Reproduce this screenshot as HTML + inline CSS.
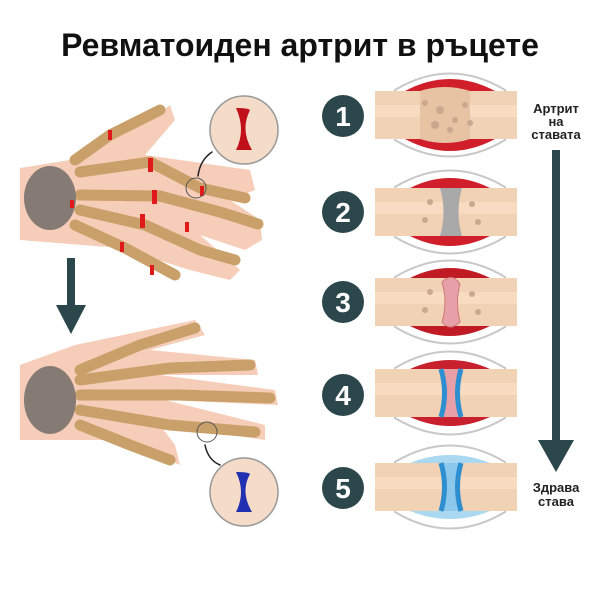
<!DOCTYPE html>
<html><head><meta charset="utf-8"><style>
body{margin:0;background:#fff;width:600px;height:600px;overflow:hidden}
svg{display:block}
text{font-family:"Liberation Sans",sans-serif}
</style></head><body>
<svg width="600" height="600" viewBox="0 0 600 600" xmlns="http://www.w3.org/2000/svg">
<text x="300" y="56" text-anchor="middle" font-size="32" font-weight="bold" fill="#111">Ревматоиден артрит в ръцете</text>

<defs>
<g id="bone">
  <rect x="375" y="-24" width="142" height="48" fill="#f2d2b4"/>
  <rect x="375" y="-10" width="142" height="12" fill="#f7dcc2"/>
</g>
<g id="cap">
  <path d="M395,-25 Q450,-58 505,-25 L505,25 Q450,58 395,25Z" fill="#fff" stroke="#c8c8c8" stroke-width="2"/>
</g>
</defs>

<g transform="translate(0,115)">
  <use href="#cap"/>
  <path d="M405,-24 Q450,-48 495,-24 L495,24 Q450,48 405,24Z" fill="#d01f2a"/>
  <use href="#bone"/>
  <path d="M420,-24 Q445,-32 470,-24 L470,24 Q445,32 420,24Z" fill="#e8c3a3"/>
  <g fill="#c9a890"><circle cx="425" cy="-12" r="3"/><circle cx="440" cy="-5" r="4"/><circle cx="455" cy="5" r="3"/><circle cx="435" cy="10" r="4"/><circle cx="465" cy="-10" r="3"/><circle cx="450" cy="15" r="3"/><circle cx="470" cy="8" r="3"/></g>
</g>
<g transform="translate(0,212)">
  <use href="#cap"/>
  <path d="M410,-24 Q450,-44 490,-24 L490,24 Q450,44 410,24Z" fill="#d01f2a"/>
  <use href="#bone"/>
  <path d="M440,-24 L462,-24 Q455,0 462,24 L440,24 Q447,0 440,-24Z" fill="#a9a9a9"/>
  <g fill="#c9a890"><circle cx="430" cy="-10" r="3"/><circle cx="425" cy="8" r="3"/><circle cx="472" cy="-8" r="3"/><circle cx="478" cy="10" r="3"/></g>
</g>
<g transform="translate(0,302)">
  <use href="#cap"/>
  <path d="M410,-24 Q450,-44 490,-24 L490,24 Q450,44 410,24Z" fill="#c01a25"/>
  <use href="#bone"/>
  <path d="M442,-20 Q452,-30 460,-18 Q455,0 460,20 Q450,30 442,20 Q448,0 442,-20Z" fill="#e8a0a8" stroke="#c77" stroke-width="1"/>
  <g fill="#c9a890"><circle cx="430" cy="-10" r="3"/><circle cx="425" cy="8" r="3"/><circle cx="472" cy="-8" r="3"/><circle cx="478" cy="10" r="3"/></g>
</g>
<g transform="translate(0,393)">
  <use href="#cap"/>
  <path d="M410,-24 Q450,-42 490,-24 L490,24 Q450,42 410,24Z" fill="#c8202c"/>
  <use href="#bone"/>
  <path d="M441,-24 L461,-24 Q454,0 461,24 L441,24 Q448,0 441,-24Z" fill="#e8a0a8"/>
  <path d="M441,-24 Q448,0 441,24" stroke="#2d8fd0" stroke-width="5" fill="none"/>
  <path d="M461,-24 Q454,0 461,24" stroke="#2d8fd0" stroke-width="5" fill="none"/>
</g>
<g transform="translate(0,487)">
  <use href="#cap"/>
  <path d="M410,-24 Q450,-40 490,-24 L490,24 Q450,40 410,24Z" fill="#a9d8f0"/>
  <use href="#bone"/>
  <path d="M441,-24 L461,-24 Q454,0 461,24 L441,24 Q448,0 441,-24Z" fill="#8cc8ec"/>
  <path d="M441,-24 Q448,0 441,24" stroke="#2d8fd0" stroke-width="5" fill="none"/>
  <path d="M461,-24 Q454,0 461,24" stroke="#2d8fd0" stroke-width="5" fill="none"/>
</g>

<g fill="#2c474c">
<circle cx="343" cy="116" r="21"/><circle cx="343" cy="212" r="21"/><circle cx="343" cy="302" r="21"/><circle cx="343" cy="395" r="21"/><circle cx="343" cy="488" r="21"/>
</g>
<g fill="#fff" font-size="28" font-weight="bold" text-anchor="middle">
<text x="343" y="126">1</text><text x="343" y="222">2</text><text x="343" y="312">3</text><text x="343" y="405">4</text><text x="343" y="498">5</text>
</g>

<rect x="552" y="150" width="8" height="295" fill="#2c474c"/>
<path d="M538,440 L574,440 L556,472Z" fill="#2c474c"/>
<g font-size="13" font-weight="bold" fill="#222" text-anchor="middle">
<text x="556" y="113">Артрит</text><text x="556" y="126">на</text><text x="556" y="139">ставата</text>
<text x="556" y="492">Здрава</text><text x="556" y="506">става</text>
</g>

<rect x="67" y="258" width="8" height="50" fill="#2c474c"/>
<path d="M56,305 L86,305 L71,334Z" fill="#2c474c"/>

<g stroke-linecap="round">
  <path d="M20,168 L70,160 Q110,140 150,120 L170,105 L175,120 L145,155 L250,170 L255,190 L230,200 L260,220 L262,240 L245,250 L200,235 L240,270 L230,280 L190,270 L120,248 L20,240Z" fill="#f6cdb8"/>
  <g stroke="#caa06a" stroke-width="11" fill="none">
    <path d="M75,160 L110,135 L160,110"/>
    <path d="M80,172 L150,162 L200,188 L245,198"/>
    <path d="M80,195 L160,196 L220,212 L258,224"/>
    <path d="M80,210 L145,225 L200,250 L235,260"/>
    <path d="M75,225 L125,248 L175,275"/>
  </g>
  <ellipse cx="50" cy="198" rx="26" ry="32" fill="#857b74"/>
  <g fill="#e01a1a"><rect x="108" y="130" width="4" height="10"/><rect x="148" y="158" width="5" height="14"/><rect x="152" y="190" width="5" height="14"/><rect x="140" y="214" width="5" height="14"/><rect x="200" y="186" width="4" height="10"/><rect x="120" y="242" width="4" height="10"/><rect x="185" y="222" width="4" height="10"/><rect x="150" y="265" width="4" height="10"/><rect x="70" y="200" width="4" height="8"/></g>
  <circle cx="196" cy="188" r="10" fill="none" stroke="#555" stroke-width="1"/>
  <path d="M198,176 Q200,160 212,152" stroke="#222" stroke-width="1.5" fill="none"/>
  <circle cx="244" cy="130" r="34" fill="#f5dcc8" stroke="#999" stroke-width="1.5"/>
  <path d="M236,108 Q248,108 250,110 Q240,130 252,150 L236,150 Q246,130 236,108Z" fill="#c0101a"/>
</g>

<g stroke-linecap="round">
  <path d="M20,365 L75,345 L195,320 L205,335 L150,350 L255,360 L258,375 L160,375 L275,390 L278,405 L165,400 L265,425 L265,440 L160,425 L175,445 L180,465 L120,440 L20,440Z" fill="#f6cdb8"/>
  <g stroke="#caa06a" stroke-width="11" fill="none">
    <path d="M80,370 L140,345 L195,328"/>
    <path d="M80,380 L170,368 L250,365"/>
    <path d="M80,395 L180,395 L270,398"/>
    <path d="M80,410 L170,425 L255,432"/>
    <path d="M80,425 L130,445 L170,460"/>
  </g>
  <ellipse cx="50" cy="400" rx="26" ry="34" fill="#857b74"/>
  <circle cx="207" cy="432" r="10" fill="none" stroke="#555" stroke-width="1"/>
  <path d="M205,445 Q208,460 220,465" stroke="#222" stroke-width="1.5" fill="none"/>
  <circle cx="244" cy="492" r="34" fill="#f5dcc8" stroke="#999" stroke-width="1.5"/>
  <path d="M236,472 Q248,472 250,474 Q240,492 252,512 L236,512 Q246,492 236,472Z" fill="#2030b0"/>
</g>
</svg>
</body></html>
